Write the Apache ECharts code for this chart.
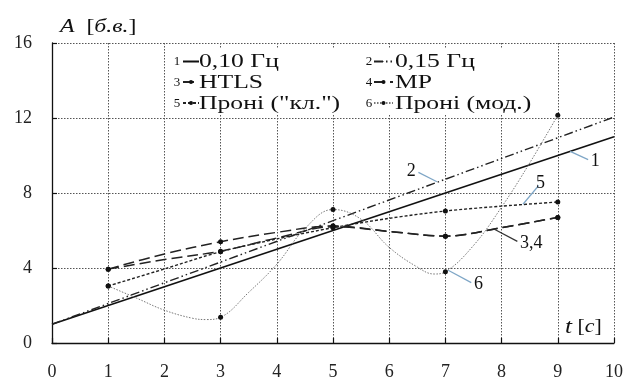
<!DOCTYPE html>
<html>
<head>
<meta charset="utf-8">
<script src="https://cdn.jsdelivr.net/npm/echarts@6/dist/echarts.min.js"></script>
<style>
  html, body { margin: 0; padding: 0; background: #fff; }
  #chart { width: 638px; height: 378px; }
</style>
</head>
<body>
<div id="chart"></div>
<script>
// --- data ---
const names = ['0,10 Гц', '0,15 Гц', 'HTLS', 'МР', 'Проні ("кл.")', 'Проні (мод.)'];
const xTicks = [0, 1, 2, 3, 4, 5, 6, 7, 8, 9, 10];
const yTicks = [0, 4, 8, 12, 16];
const knots = [1, 3, 5, 7, 9]; // samples where the dots are drawn

const f010T = [0, 10];
const f010V = [1.0, 11.0];
const f015T = [0, 10];
const f015V = [1.0, 12.05];

const htlsT = [1, 2, 3, 4, 5, 6, 7, 8, 9];
const htlsV = [3.94, 4.75, 5.4, 5.9, 6.25, 5.95, 5.7, 6.15, 6.7];
const mpT = [1, 2, 3, 4, 5, 6, 7, 8, 9];
const mpV = [3.94, 4.45, 4.9, 5.6, 6.2, 5.95, 5.7, 6.15, 6.7];
const pronyClT = [1, 2, 3, 4, 5, 6, 7, 8, 9];
const pronyClV = [3.04, 3.95, 4.87, 5.55, 6.15, 6.65, 7.04, 7.3, 7.52];
const pronyModT = [1, 1.5, 2, 2.5, 2.75, 3, 3.5, 4, 4.5, 5, 5.5, 6, 6.5, 6.8, 7, 7.5, 8, 8.5, 9];
const pronyModV = [3.04, 2.4, 1.75, 1.32, 1.25, 1.37, 2.7, 4.2, 6.1, 7.12, 6.6, 5.1, 4.05, 3.68, 3.8, 5.2, 7.25, 9.6, 12.15];

const SERIF = "'Liberation Serif', 'Times New Roman', serif";
const LEADER = '#7ea6c6';

const pts = (ts, vs, dotted) => ts.map((t, i) => ({
    value: [t, vs[i]],
    symbol: dotted && knots.includes(t) ? 'circle' : 'none',
}));

// leader line from the curve to its number
const leader = (from, to, text, color) => ({
    silent: true,
    symbol: 'none',
    animation: false,
    lineStyle: { color: color, width: 1.2, type: 'solid' },
    label: {
        show: true,
        position: 'end',
        distance: 3,
        formatter: text,
        fontFamily: SERIF,
        fontSize: 18,
        color: '#111',
    },
    data: [[{ coord: from }, { coord: to }]],
});

const lineSeries = (name, data, style, extra) => Object.assign({
    name: name,
    type: 'line',
    data: data,
    symbol: 'circle',
    symbolSize: 5,
    itemStyle: { color: '#111' },
    lineStyle: style,
    emphasis: { disabled: true },
}, extra || {});

// text boxes in the original are stretched sideways
const stretched = (x, y, text, size, sx, rich) => ({
    type: 'text',
    z: 5,
    x: x,
    y: y,
    scaleX: sx,
    style: {
        text: text,
        fontFamily: SERIF,
        fontSize: size,
        fill: '#111',
        textAlign: 'left',
        textVerticalAlign: 'middle',
        rich: rich,
    },
});

const chart = echarts.init(document.getElementById('chart'), null, { renderer: 'canvas' });

// legend: two columns, three rows (icons from echarts, words drawn beside them)
const rowY = [61, 82, 103];
const iconX = [182, 373];
const wordX = [199, 395];
const numX = [177, 369];
const cell = i => ({ col: i % 2, row: Math.floor(i / 2) });

const option = {
    animation: false,
    backgroundColor: '#fff',
    grid: { left: 52, right: 24, top: 43, bottom: 35, containLabel: false, outerBoundsMode: 'none' },
    xAxis: {
        type: 'value',
        min: xTicks[0],
        max: xTicks[xTicks.length - 1],
        interval: 1,
        axisLine: { lineStyle: { color: '#111', width: 1.3 } },
        axisTick: { inside: true, length: 5, lineStyle: { color: '#111', width: 1.2 } },
        axisLabel: { fontFamily: SERIF, fontSize: 18, color: '#222', margin: 20 },
        splitLine: { show: true, lineStyle: { color: '#555', width: 1, type: [1.5, 1.5] } },
    },
    yAxis: {
        type: 'value',
        min: yTicks[0],
        max: yTicks[yTicks.length - 1],
        interval: 4,
        axisLine: { show: true, lineStyle: { color: '#111', width: 1.3 } },
        axisTick: { show: true, inside: true, length: 5, lineStyle: { color: '#111', width: 1.2 } },
        axisLabel: { fontFamily: SERIF, fontSize: 18, color: '#222', margin: 20 },
        splitLine: { show: true, lineStyle: { color: '#555', width: 1, type: [1.5, 1.5] } },
    },
    legend: names.map((n, i) => {
        const c = cell(i);
        const h = i < 2 ? 1 : 5;
        return {
            data: [n],
            left: iconX[c.col],
            top: rowY[c.row] - h / 2,
            padding: 0,
            itemWidth: i % 2 ? 19 : 16,
            itemHeight: h,
            itemGap: 0,
            selectedMode: false,
            formatter: () => '',
            textStyle: { fontSize: 1 },
        };
    }),
    graphic: [
        {
            type: 'rect',
            z: 1,
            shape: { x: 170, y: 48, width: 382, height: 67 },
            style: { fill: '#fff' },
        },
        stretched(60, 27, '{i|A}  [{i|б.в.}]', 19, 1.25, {
            i: { fontFamily: SERIF, fontSize: 19, fontStyle: 'italic', fill: '#111' },
        }),
        stretched(565, 327, '{t|t} [{i|с}]', 19, 1.15, {
            t: { fontFamily: SERIF, fontSize: 22, fontStyle: 'italic', fill: '#111' },
            i: { fontFamily: SERIF, fontSize: 19, fontStyle: 'italic', fill: '#111' },
        }),
    ].concat(names.map((n, i) => {
        const c = cell(i);
        return stretched(wordX[c.col], rowY[c.row] + 1, n, 19, 1.35);
    })).concat(names.map((n, i) => {
        const c = cell(i);
        return {
            type: 'text',
            z: 5,
            x: numX[c.col],
            y: rowY[c.row] + 1,
            style: {
                text: String(i + 1),
                fontFamily: SERIF,
                fontSize: 13,
                fill: '#111',
                textAlign: 'center',
                textVerticalAlign: 'middle',
            },
        };
    })),
    series: [
        lineSeries(names[0], pts(f010T, f010V, false), { color: '#111', width: 1.7, type: 'solid' }, {
            symbol: 'none',
            markLine: leader([9.22, 10.22], [9.54, 9.78], '1', LEADER),
        }),
        lineSeries(names[1], pts(f015T, f015V, false), { color: '#222', width: 1.4, type: [9, 3, 1.5, 3, 1.5, 3] }, {
            symbol: 'none',
            markLine: leader([6.85, 8.6], [6.52, 9.1], '2', LEADER),
        }),
        lineSeries(names[2], pts(htlsT, htlsV, true), { color: '#222', width: 1.5, type: [11, 5] }, {
            smooth: 0.35,
            markLine: leader([7.88, 6.05], [8.28, 5.42], '3,4', '#333'),
        }),
        lineSeries(names[3], pts(mpT, mpV, true), { color: '#222', width: 1.5, type: [11, 5] }, {
            smooth: 0.35,
        }),
        lineSeries(names[4], pts(pronyClT, pronyClV, true), { color: '#222', width: 1.4, type: [3, 2] }, {
            smooth: 0.3,
            markLine: leader([8.38, 7.4], [8.66, 8.4], '5', LEADER),
        }),
        lineSeries(names[5], pts(pronyModT, pronyModV, true), { color: '#777', width: 1, type: [1.5, 1.5] }, {
            smooth: 0.4,
            markLine: leader([7.05, 3.88], [7.46, 3.22], '6', LEADER),
        }),
    ],
};

chart.setOption(option);
</script>
</body>
</html>
